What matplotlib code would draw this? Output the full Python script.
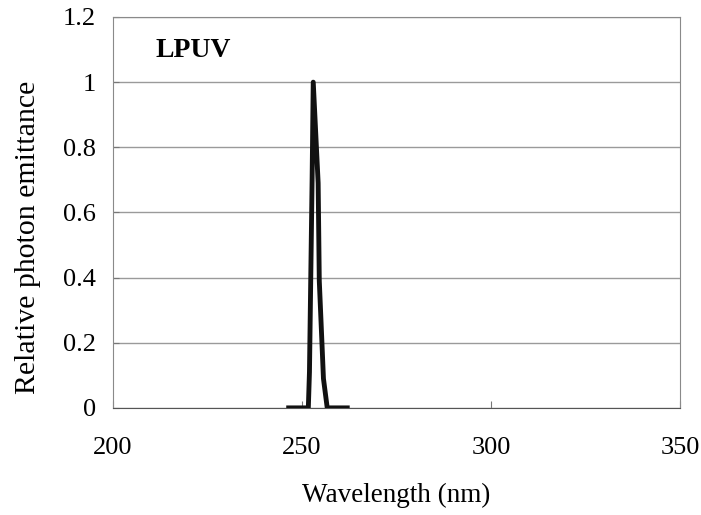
import matplotlib.pyplot as plt

# Espectro de emisión de la lámpara LPUV (baja presión de mercurio)
longitud_onda = [246.5, 251.7, 252.0, 252.7, 253.0, 254.3, 254.6, 255.3, 255.7, 256.7, 262.0]
emitancia = [0, 0, 0.11, 0.7, 1.0, 0.69, 0.39, 0.2, 0.09, 0, 0]

ticks_x = [200, 250, 300, 350]
ticks_y = [0, 0.2, 0.4, 0.6, 0.8, 1, 1.2]
etiquetas_y = ["0", "0.2", "0.4", "0.6", "0.8", "1", "1.2"]

plt.rcParams['font.family'] = ['Liberation Serif', 'DejaVu Serif']

fig = plt.figure(figsize=(7.01, 5.15), dpi=100)
ax = fig.add_axes([0.161, 0.208, 0.809, 0.759])

ax.plot(longitud_onda, emitancia, color="#111111", linewidth=3.5, solid_joinstyle='round', zorder=3)

ax.set_xlim(200, 350)
ax.set_ylim(0, 1.2)
ax.set_xticks(ticks_x)
ax.set_yticks(ticks_y)
ax.set_yticklabels(etiquetas_y)
ax.yaxis.grid(True, color="#9a9a9a", linewidth=1)
ax.set_axisbelow(True)

for lado in ["top", "right", "left"]:
    ax.spines[lado].set_color("#8a8a8a")
ax.spines["bottom"].set_color("#555555")

ax.tick_params(axis="x", direction="in", length=5, color="#777777", pad=21, labelsize=19)
ax.tick_params(axis="y", direction="in", length=4, color="#777777", pad=12, labelsize=19)

ax.set_xlabel("Wavelength (nm)", fontsize=19.5)
ax.xaxis.set_label_coords(0.5, -0.192)
ax.set_ylabel("Relative photon emittance", fontsize=21.5)
# la etiqueta del eje y va algo desplazada hacia abajo
ax.yaxis.set_label_coords(-0.127, 0.435)

ax.text(0.075, 0.945, "LPUV", transform=ax.transAxes, fontsize=20, fontweight="bold",
        va="top", ha="left")

fig.savefig("out.png", dpi=100)
